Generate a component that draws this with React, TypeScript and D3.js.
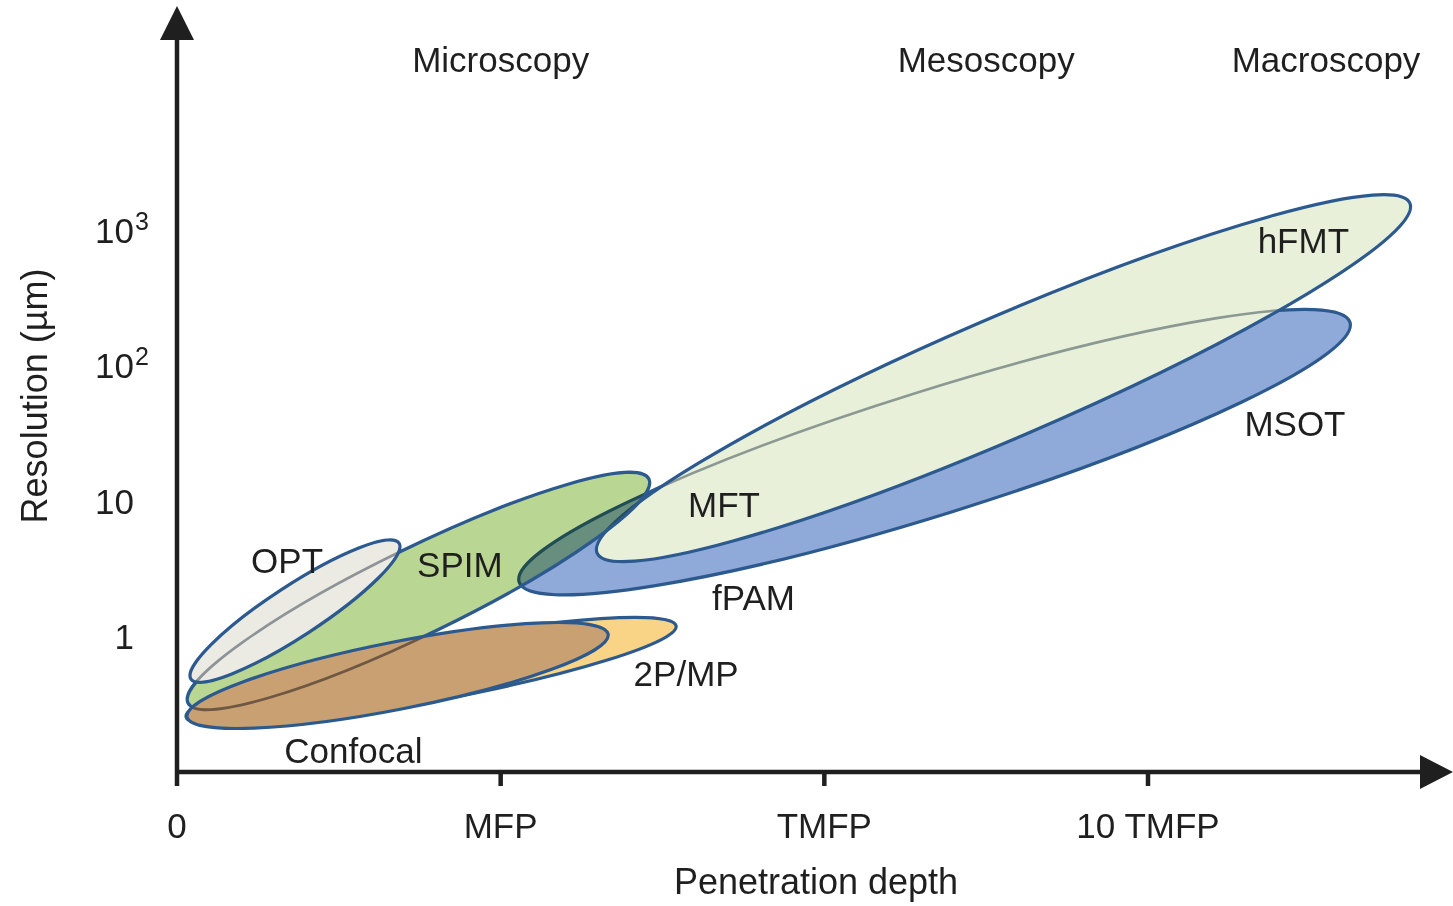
import { useEffect, useRef } from 'react';
import * as d3 from 'd3';

const depthTicks = ['0', 'MFP', 'TMFP', '10 TMFP'];
const resolutionTicks = [1, 10, 100, 1000];
const regimes = ['Microscopy', 'Mesoscopy', 'Macroscopy'];
const regimeDepth = [1, 2.5, 3.55];

// each technique is an elongated ellipse running from (depthFrom, resFrom) to (depthTo, resTo)
const techniques = ['fPAM/MSOT', 'MFT/hFMT', 'SPIM', 'OPT', '2P/MP', 'Confocal'];
const depthFrom = [1.057, 1.298, 0.034, 0.043, 0.028, 0.031];
const depthTo = [3.624, 3.809, 1.458, 0.686, 1.542, 1.332];
const resFrom = [2.53, 4.14, 0.323, 0.486, 0.255, 0.255];
const resTo = [210, 1592, 14.6, 4.91, 1.2, 1.045];
const spreadDecades = [0.48, 0.484, 0.355, 0.222, 0.222, 0.253];

const labels = ['OPT', 'SPIM', 'MFT', 'fPAM', 'hFMT', 'MSOT', '2P/MP', 'Confocal'];
const labelDepth = [0.34, 0.874, 1.69, 1.781, 3.48, 3.454, 1.573, 0.545];
const labelRes = [3.68, 3.41, 9.45, 1.94, 849, 37.5, 0.539, 0.145];

const fills: Record<string, string> = {
  'fPAM/MSOT': '#8fa9d9',
  'MFT/hFMT': '#e9f0da',
  SPIM: '#bad693',
  OPT: '#ecebe3',
  '2P/MP': '#f9d487',
  Confocal: '#c9a072',
};
// outlines of shapes lying underneath that still show through the fill
const showThrough: Record<string, string[]> = {
  'MFT/hFMT': ['fPAM/MSOT'],
  OPT: ['SPIM'],
  Confocal: ['SPIM'],
};
const throughColor: Record<string, string> = {
  'MFT/hFMT': '#8c9993',
  OPT: '#8e9398',
  Confocal: '#6f5843',
};

const W = 1453;
const H = 906;
const FONT = 'Liberation Sans, Arial, Helvetica, sans-serif';
const INK = '#1f1f1f';
const OUTLINE = '#2c5a8f';

export default function App() {
  const svgRef = useRef<SVGSVGElement>(null);

  useEffect(() => {
    if (!svgRef.current) return;
    const svg = d3.select(svgRef.current);
    svg.selectAll('*').remove();

    const x = d3.scaleLinear().domain([0, 3]).range([177, 1148]);
    const y = d3.scaleLog().domain([0.1, 1000]).range([772, 230.5]);
    const x0 = x(0);
    const y0 = y.range()[0];

    svg.append('rect').attr('width', W).attr('height', H).attr('fill', '#fff');
    const defs = svg.append('defs');

    // ellipse geometry in pixels
    const geoms: Record<string, { cx: number; cy: number; a: number; b: number; deg: number }> = {};
    techniques.forEach((name, i) => {
      const px0 = x(depthFrom[i]), py0 = y(resFrom[i]);
      const px1 = x(depthTo[i]), py1 = y(resTo[i]);
      const theta = Math.atan2(py1 - py0, px1 - px0);
      const a = Math.hypot(px1 - px0, py1 - py0) / 2;
      const h = y(1) - y(Math.pow(10, spreadDecades[i]));
      const s = Math.sin(theta), c = Math.cos(theta);
      const b = Math.abs(c) / Math.sqrt(1 / (h * h) - (s * s) / (a * a));
      geoms[name] = { cx: (px0 + px1) / 2, cy: (py0 + py1) / 2, a, b, deg: (theta * 180) / Math.PI };
    });

    const ellipse = (parent: d3.Selection<any, unknown, null, undefined>, name: string) => {
      const g = geoms[name];
      return parent.append('ellipse')
        .attr('cx', g.cx)
        .attr('cy', g.cy)
        .attr('rx', g.a)
        .attr('ry', g.b)
        .attr('transform', `rotate(${g.deg} ${g.cx} ${g.cy})`);
    };

    const shapes = svg.append('g');
    techniques.forEach((name, i) => {
      ellipse(defs.append('clipPath').attr('id', `clip-${i}`), name);

      const f = ellipse(shapes, name).attr('fill', fills[name]).attr('stroke', 'none');
      if (name === 'SPIM') f.style('mix-blend-mode', 'multiply');

      const under = showThrough[name] || [];
      if (under.length) {
        // clip on an untransformed group so the clip stays in page coordinates
        const ghost = shapes.append('g').attr('clip-path', `url(#clip-${i})`);
        under.forEach((u) => {
          ellipse(ghost, u)
            .attr('fill', 'none')
            .attr('stroke', throughColor[name])
            .attr('stroke-width', 2.6);
        });
      }

      ellipse(shapes, name)
        .attr('fill', 'none')
        .attr('stroke', OUTLINE)
        .attr('stroke-width', 3.2);
    });

    // technique labels
    svg.append('g')
      .selectAll('text')
      .data(labels)
      .join('text')
      .attr('x', (_, i) => x(labelDepth[i]))
      .attr('y', (_, i) => y(labelRes[i]))
      .attr('dy', '0.36em')
      .attr('text-anchor', 'middle')
      .attr('font-family', FONT)
      .attr('font-size', 35)
      .attr('fill', INK)
      .text((d) => d);

    // axes
    const axis = svg.append('g').attr('stroke', INK).attr('stroke-width', 4.5);
    axis.append('line').attr('x1', x0).attr('x2', x0).attr('y1', 786).attr('y2', 36);
    axis.append('line').attr('x1', x0 - 2).attr('x2', 1425).attr('y1', y0).attr('y2', y0);
    svg.append('polygon')
      .attr('points', `${x0 - 17},40 ${x0 + 17},40 ${x0},6`)
      .attr('fill', INK);
    svg.append('polygon')
      .attr('points', `1420,${y0 - 17} 1420,${y0 + 17} 1453,${y0}`)
      .attr('fill', INK);

    depthTicks.forEach((t, i) => {
      if (i > 0) {
        axis.append('line').attr('x1', x(i)).attr('x2', x(i)).attr('y1', y0).attr('y2', 786);
      }
      svg.append('text')
        .attr('x', x(i))
        .attr('y', 838)
        .attr('text-anchor', 'middle')
        .attr('font-family', FONT)
        .attr('font-size', 35)
        .attr('fill', INK)
        .text(t);
    });

    resolutionTicks.forEach((v) => {
      const exp = Math.round(Math.log10(v));
      const base = y(v) + 12.5;
      svg.append('text')
        .attr('x', 134)
        .attr('y', base)
        .attr('text-anchor', 'end')
        .attr('font-family', FONT)
        .attr('font-size', 35)
        .attr('fill', INK)
        .text(exp >= 2 ? '10' : String(v));
      if (exp >= 2) {
        svg.append('text')
          .attr('x', 135)
          .attr('y', base - 13)
          .attr('font-family', FONT)
          .attr('font-size', 25)
          .attr('fill', INK)
          .text(String(exp));
      }
    });

    regimes.forEach((r, i) => {
      svg.append('text')
        .attr('x', x(regimeDepth[i]))
        .attr('y', 72)
        .attr('text-anchor', 'middle')
        .attr('font-family', FONT)
        .attr('font-size', 35)
        .attr('fill', INK)
        .text(r);
    });

    svg.append('text')
      .attr('x', 816)
      .attr('y', 894)
      .attr('text-anchor', 'middle')
      .attr('font-family', FONT)
      .attr('font-size', 36)
      .attr('fill', INK)
      .text('Penetration depth');

    svg.append('text')
      .attr('transform', 'translate(47,396) rotate(-90)')
      .attr('text-anchor', 'middle')
      .attr('font-family', FONT)
      .attr('font-size', 36)
      .attr('fill', INK)
      .text('Resolution (µm)');
  }, []);

  return (
    <div style={{ position: 'absolute', left: 0, top: 0, width: W, height: H }}>
      <svg ref={svgRef} width={W} height={H} style={{ display: 'block' }} />
    </div>
  );
}
